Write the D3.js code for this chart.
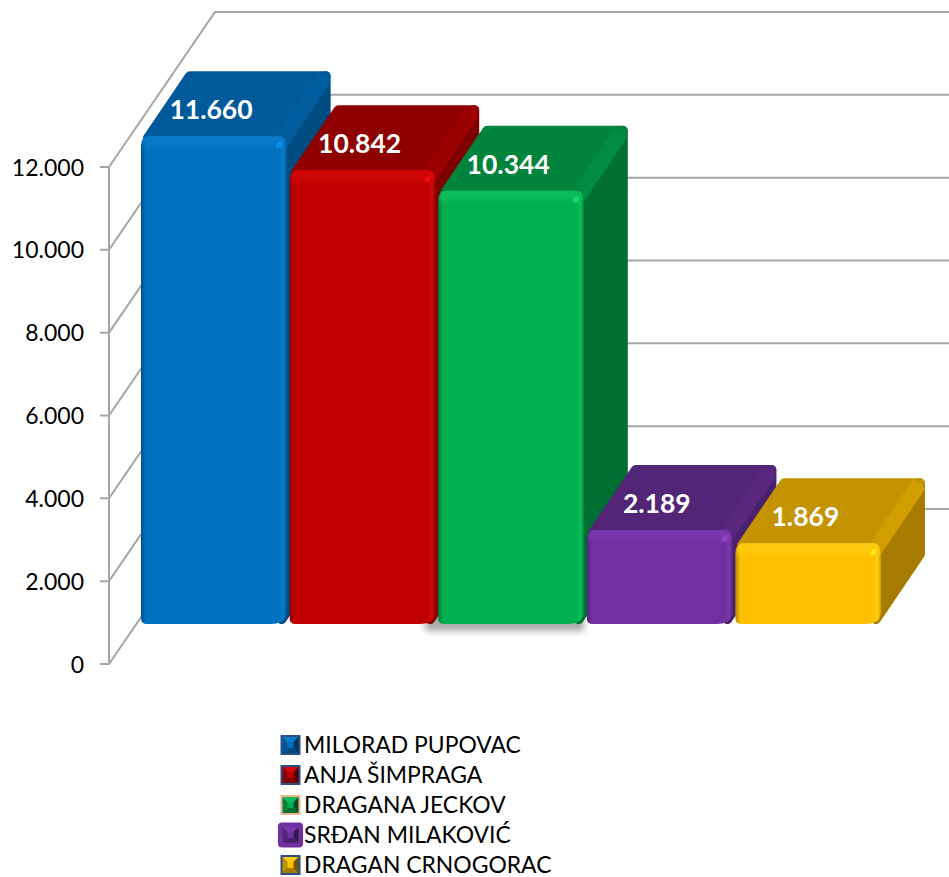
<!DOCTYPE html>
<html><head><meta charset="utf-8">
<script src="https://d3js.org/d3.v7.min.js"></script>
<style>html,body{margin:0;padding:0;background:#fff}svg{display:block}text{font-family:Lato,"Open Sans",sans-serif}</style>
</head><body><svg id="c" width="949" height="877"></svg>
<script>
const names=["MILORAD PUPOVAC","ANJA ŠIMPRAGA","DRAGANA JECKOV","SRĐAN MILAKOVIĆ","DRAGAN CRNOGORAC"];
const votes=[11660,10842,10344,2189,1869];
const voteLabels=["11.660","10.842","10.344","2.189","1.869"];
const axisTicks=[0,2000,4000,6000,8000,10000,12000];
const tickLabels=["0","2.000","4.000","6.000","8.000","10.000","12.000"];
const frontColors=["#0070C0","#C00000","#00B050","#7030A0","#FFC000"];
const lightColors=["#0A7CCC","#D40808","#0CBE5C","#7C38AE","#FFCC10"];
const topColors=["#005A9A","#8F0000","#00843C","#522577","#C39400"];
const sideColors=["#004C80","#7E0000","#006F32","#4A216E","#A67C00"];
const bevelColors=["#005EA0","#9A0000","#008C41","#5A277F","#D09E00"];
const frameColors=["#2A4F86","#2A4F86","#F2B58A","#7030A0","#2A4F86"];

const svg=d3.select("#c"),defs=svg.append("defs");
// value axis on the front-left edge of the wall box
const yAxis=d3.scaleLinear().domain([0,12000]).range([664,167]);
const depth={x:106,y:-155};
const grid=svg.append("g").attr("fill","none").attr("stroke","#a6a6a6").attr("stroke-width",2);
axisTicks.forEach((t,i)=>{
  const y=yAxis(t);
  grid.append("path").attr("d",d3.line()([[100,y],[109,y],[109+depth.x,y+depth.y],[949,y+depth.y]]));
  svg.append("text").attr("x",84).attr("y",y+8.5).attr("text-anchor","end").attr("font-size",23).attr("fill","#000").text(tickLabels[i]);
});
grid.append("path").attr("d",d3.line()([[109,yAxis(0)],[109,yAxis(12000)]]));

// bars
const xBand=d3.scaleBand().domain(names).range([141,881]).paddingInner(0.02).paddingOuter(0);
const yBar=d3.scaleLinear().domain([0,12000]).range([621,122]);
const base=624, dx=44, dy=-65, r=5, c=9;
defs.append("filter").attr("id","blur").attr("x","-10%").attr("y","-40%").attr("width","120%").attr("height","180%")
  .append("feGaussianBlur").attr("stdDeviation",3);
names.forEach((n,i)=>{
  const h=defs.append("linearGradient").attr("id","h"+i);
  [[0,d3.color(frontColors[i]).darker(0.9)],[0.035,frontColors[i]],[0.95,frontColors[i]],[0.975,lightColors[i]],[1,d3.color(frontColors[i]).darker(0.5)]]
    .forEach(s=>h.append("stop").attr("offset",s[0]).attr("stop-color",s[1]));
  const v=defs.append("linearGradient").attr("id","v"+i).attr("x1",0).attr("x2",0).attr("y1",0).attr("y2",1);
  [[0,lightColors[i],0.9],[0.55,lightColors[i],0.7],[1,lightColors[i],0]]
    .forEach(s=>v.append("stop").attr("offset",s[0]).attr("stop-color",s[1]).attr("stop-opacity",s[2]));
});
// soft shadow below the third bar
svg.append("rect").attr("x",xBand(names[2])-13).attr("y",base-14).attr("width",xBand.bandwidth()+13).attr("height",21)
  .attr("fill","#666").attr("filter","url(#blur)").attr("opacity",.55);
const poly=(g,pts,fill)=>g.append("path").attr("d",d3.line()(pts)+"Z").attr("fill",fill).attr("stroke",fill)
  .attr("stroke-width",r*2).attr("stroke-linejoin","round");
const bars=svg.selectAll("g.bar").data(names).join("g").attr("class","bar");
bars.each(function(n,i){
  const g=d3.select(this),L=xBand(n),R=L+xBand.bandwidth(),T=yBar(votes[i]);
  // side face
  poly(g,[[R-r,T+r],[R+dx-r,T+dy+r],[R+dx-r,base+dy-r],[R-r,base-r]],sideColors[i]);
  // top face
  poly(g,[[L+r+2,T+2],[L+dx+r,T+dy+r],[R+dx-r,T+dy+r],[R-r,T+2]],topColors[i]);
  // bevel strip along the top-right edge
  g.append("path").attr("d",d3.line()([[R-12,T+1],[R+dx-13,T+dy+2],[R+dx-3,T+dy+5],[R+dx,T+dy+11],[R,T+11]])+"Z").attr("fill",bevelColors[i]);
  // front face
  g.append("path").attr("d",`M${L},${T+c}Q${L},${T} ${L+c},${T}H${R-c}Q${R},${T} ${R},${T+c}V${base-12}Q${R},${base} ${R-16},${base}H${L+6}Q${L},${base} ${L},${base-6}Z`)
    .attr("fill",`url(#h${i})`);
  g.append("path").attr("d",`M${L+1},${T+14}V${T+c}Q${L+1},${T} ${L+c},${T}H${R-c}Q${R-1},${T} ${R-1},${T+c}V${T+14}Z`).attr("fill",`url(#v${i})`);
  g.append("path").attr("d",d3.line()([[R-11,T+12],[R-9,T+6],[R-5,T+5],[R-5,T+11]])+"Z").attr("fill",d3.color(lightColors[i]).brighter(0.4));
  g.append("text").attr("x",L+70).attr("y",T+dy/2+15.5).attr("text-anchor","middle")
    .attr("font-size",26.5).attr("font-weight",700).attr("fill","#fff").text(voteLabels[i]);
});

// legend
const yLegend=d3.scalePoint().domain(names).range([745,865]);
const legend=svg.selectAll("g.leg").data(names).join("g").attr("class","leg");
legend.each(function(n,i){
  const g=d3.select(this),y=yLegend(n),s=10,cx=290.5;
  const big=i===3;
  g.append("rect").attr("x",big?cx-12.5:cx-s).attr("y",y-(big?12.5:s)).attr("width",big?25:2*s).attr("height",big?25:2*s).attr("rx",big?4:0.5)
    .attr("fill",frameColors[i]);
  const k=8;
  const tri=(pts,f)=>g.append("path").attr("d",d3.line()(pts.map(p=>[cx+p[0]*k,y+p[1]*k]))+"Z").attr("fill",f);
  tri([[-1,-1],[1,-1],[0,0]],lightColors[i]);
  tri([[-1,-1],[0,0],[-1,1]],topColors[i]);
  tri([[1,-1],[1,1],[0,0]],d3.color(sideColors[i]).darker(1));
  tri([[-1,1],[1,1],[0,0]],sideColors[i]);
  g.append("rect").attr("x",cx-3).attr("y",y-3).attr("width",6).attr("height",6).attr("fill",frontColors[i]);
  g.append("text").attr("x",304).attr("y",y+8).attr("font-size",22.9).attr("fill","#000").text(n);
});
</script></body></html>
